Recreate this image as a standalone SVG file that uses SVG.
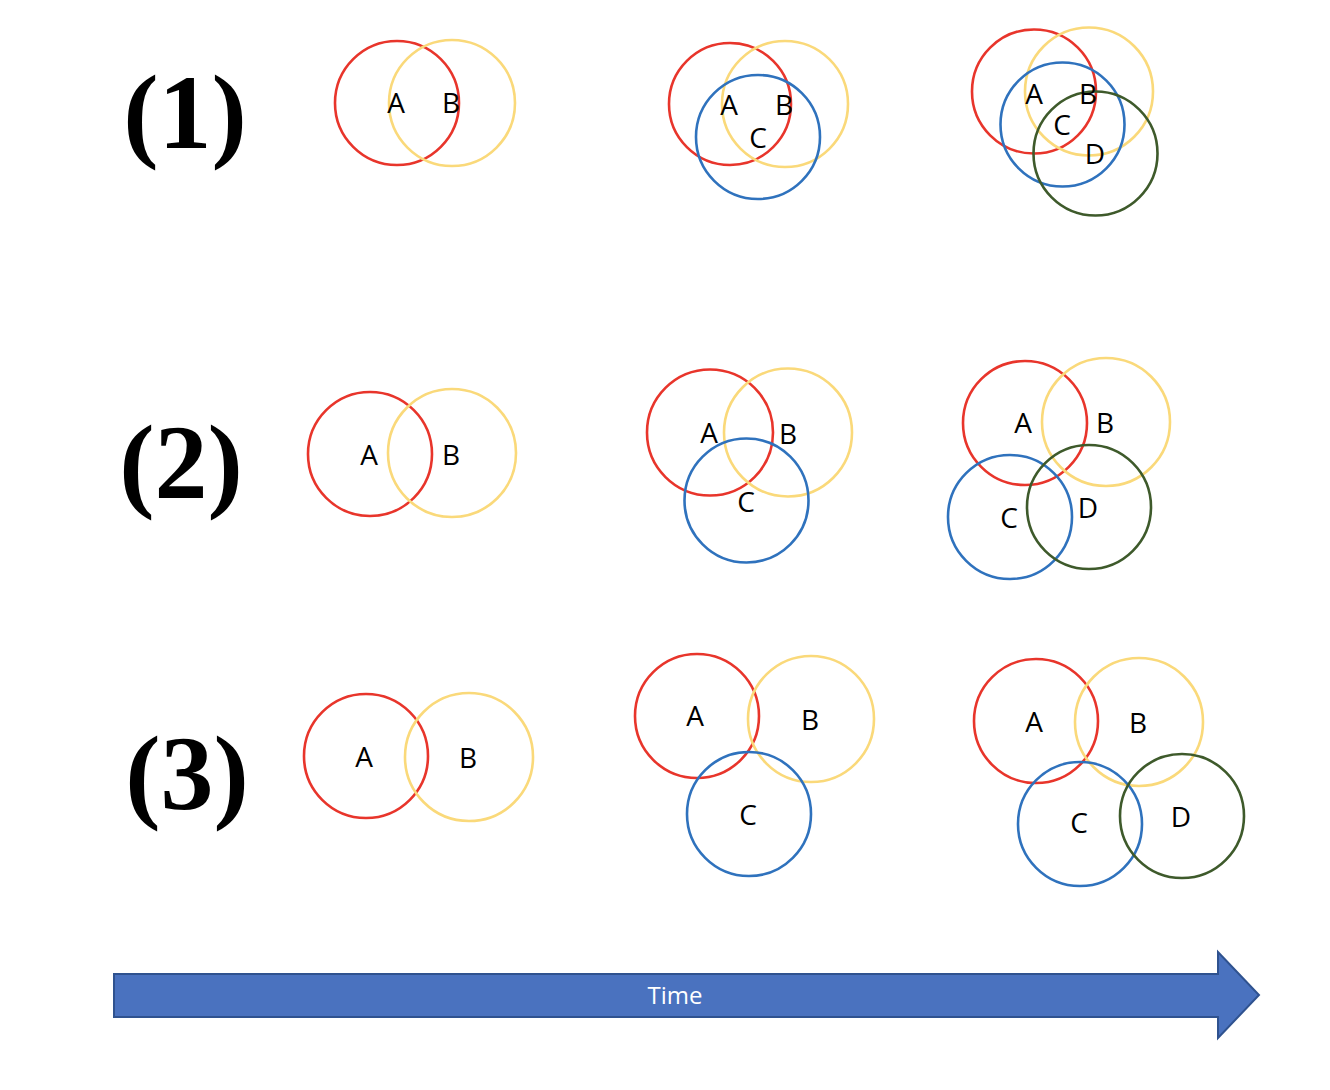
<svg xmlns="http://www.w3.org/2000/svg" width="1330" height="1090" viewBox="0 0 1330 1090">
<style>
circle{fill:none;stroke-width:2.6}
.r{stroke:#E8352B}
.y{stroke:#FAD97A}
.b{stroke:#2F72BD}
.g{stroke:#3E5A2B}
.l{font-family:"Open Sans","Liberation Sans",sans-serif;font-size:28px;fill:#000;text-anchor:middle}
.n{font-family:"Liberation Serif","Times New Roman",serif;font-weight:bold;font-size:106px;fill:#000;text-anchor:middle}
</style>
<rect width="1330" height="1090" fill="#fff"/>
<g id="row-labels">
<text class="n" x="185" y="148">(1)</text>
<text class="n" x="181" y="498">(2)</text>
<text class="n" x="187" y="809">(3)</text>
</g>
<g id="r1g1">
<circle class="r" cx="397" cy="103" r="62"/>
<circle class="y" cx="452" cy="103" r="63"/>
<text class="l" x="396" y="113">A</text>
<text class="l" x="451" y="113">B</text>
</g>
<g id="r1g2">
<circle class="r" cx="730" cy="104" r="61"/>
<circle class="y" cx="785" cy="104" r="63"/>
<circle class="b" cx="758" cy="137" r="62"/>
<text class="l" x="729" y="115">A</text>
<text class="l" x="784" y="115">B</text>
<text class="l" x="758" y="148">C</text>
</g>
<g id="r1g3">
<circle class="r" cx="1034" cy="91.5" r="62"/>
<circle class="y" cx="1089" cy="91.5" r="64"/>
<circle class="b" cx="1062.5" cy="124.5" r="62"/>
<circle class="g" cx="1095.5" cy="153.5" r="62"/>
<text class="l" x="1034" y="104">A</text>
<text class="l" x="1088" y="104">B</text>
<text class="l" x="1062" y="135">C</text>
<text class="l" x="1095" y="164">D</text>
</g>
<g id="r2g1">
<circle class="r" cx="370" cy="454" r="62"/>
<circle class="y" cx="452" cy="453" r="64"/>
<text class="l" x="369" y="465">A</text>
<text class="l" x="451" y="465">B</text>
</g>
<g id="r2g2">
<circle class="r" cx="710" cy="432.5" r="63"/>
<circle class="y" cx="788" cy="432.5" r="64"/>
<circle class="b" cx="746.5" cy="500.5" r="62"/>
<text class="l" x="709" y="443">A</text>
<text class="l" x="788" y="444">B</text>
<text class="l" x="746" y="512">C</text>
</g>
<g id="r2g3">
<circle class="r" cx="1025" cy="423" r="62"/>
<circle class="y" cx="1106" cy="422" r="64"/>
<circle class="b" cx="1010" cy="517" r="62"/>
<circle class="g" cx="1089" cy="507" r="62"/>
<text class="l" x="1023" y="433">A</text>
<text class="l" x="1105" y="433">B</text>
<text class="l" x="1009" y="528">C</text>
<text class="l" x="1088" y="518">D</text>
</g>
<g id="r3g1">
<circle class="r" cx="366" cy="756" r="62"/>
<circle class="y" cx="469" cy="757" r="64"/>
<text class="l" x="364" y="767">A</text>
<text class="l" x="468" y="768">B</text>
</g>
<g id="r3g2">
<circle class="r" cx="697" cy="716" r="62"/>
<circle class="y" cx="811" cy="719" r="63"/>
<circle class="b" cx="749" cy="814" r="62"/>
<text class="l" x="695" y="726">A</text>
<text class="l" x="810" y="730">B</text>
<text class="l" x="748" y="825">C</text>
</g>
<g id="r3g3">
<circle class="r" cx="1036" cy="721" r="62"/>
<circle class="y" cx="1139" cy="722" r="64"/>
<circle class="b" cx="1080" cy="824" r="62"/>
<circle class="g" cx="1182" cy="816" r="62"/>
<text class="l" x="1034" y="732">A</text>
<text class="l" x="1138" y="733">B</text>
<text class="l" x="1079" y="833">C</text>
<text class="l" x="1181" y="827">D</text>
</g>
<g id="time-arrow">
<polygon points="114,974 1218,974 1218,952 1259,995 1218,1038 1218,1017 114,1017" fill="#4A72BF" stroke="#2F528F" stroke-width="2"/>
<text x="675" y="1004" font-family="'Open Sans','Liberation Sans',sans-serif" font-size="24" fill="#fff" text-anchor="middle">Time</text>
</g>
</svg>
